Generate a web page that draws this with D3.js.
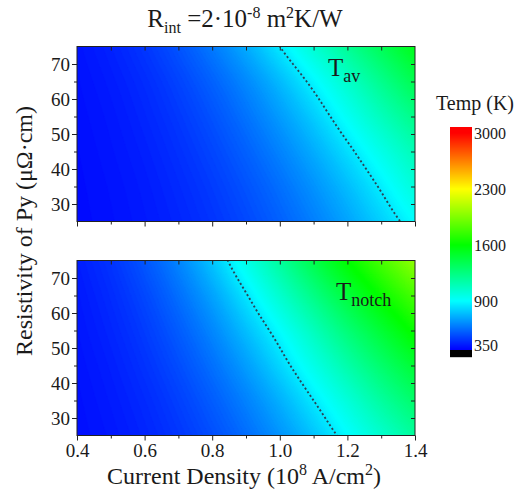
<!DOCTYPE html>
<html>
<head>
<meta charset="utf-8">
<script src="https://cdn.jsdelivr.net/npm/d3@7"></script>
<style>
  body { margin: 0; background: #fff; }
</style>
</head>
<body>
<svg id="chart" width="522" height="492"></svg>
<script>
// current density (10^8 A/cm^2) columns, resistivity (uOhm cm) rows
var currentDensity = [0.4, 0.5, 0.6, 0.7, 0.8, 0.9, 1.0, 1.1, 1.2, 1.3, 1.4];
var resistivity = [25, 35, 45, 55, 65, 75];

// average temperature (K), one row per resistivity
var tAv = [
  [314, 328, 348, 376, 413, 461, 521, 594, 682, 786, 900],
  [316, 332, 355, 388, 431, 487, 556, 641, 743, 863, 1000],
  [319, 338, 365, 404, 455, 521, 603, 703, 823, 960, 1100],
  [323, 345, 378, 424, 485, 564, 662, 781, 925, 1080, 1230],
  [328, 355, 394, 450, 524, 618, 737, 881, 1040, 1210, 1380],
  [335, 369, 419, 489, 582, 701, 850, 1020, 1190, 1360, 1530]
];

// notch temperature (K)
var tNotch = [
  [322, 343, 374, 418, 476, 550, 643, 757, 893, 1030, 1170],
  [326, 352, 389, 442, 512, 601, 713, 850, 1000, 1160, 1310],
  [332, 363, 409, 473, 558, 667, 803, 960, 1130, 1300, 1460],
  [339, 377, 432, 510, 613, 746, 900, 1080, 1270, 1450, 1630],
  [347, 393, 460, 555, 680, 841, 1030, 1230, 1430, 1620, 1800],
  [358, 413, 496, 610, 763, 960, 1170, 1390, 1600, 1800, 2000]
];

var curieLevel = 850;
var xTicks = [0.4, 0.6, 0.8, 1.0, 1.2, 1.4];
var xMinor = [0.5, 0.7, 0.9, 1.1, 1.3];
var yTicks = [30, 40, 50, 60, 70];
var yMinor = [35, 45, 55, 65];
var colorTicks = [350, 900, 1600, 2300, 3000];

var svg = d3.select("#chart");
var serif = '"Liberation Serif", "Times New Roman", "DejaVu Serif", serif';
var ink = "#1a1a1a";

var x = d3.scaleLinear().domain([0.4, 1.4]).range([77, 415]);

var color = d3.scaleLinear()
    .domain([289, 290, 900, 1600, 2300, 3000])
    .range(["#000000", "#0000ff", "#00ffff", "#00ff00", "#ffff00", "#ff0000"])
    .clamp(true);

// catmull-rom resampling of the grid so the bands look smooth
function cr(arr, f) {
  var n = arr.length;
  var i = Math.min(Math.floor(f), n - 2), t = f - i;
  var p1 = arr[i], p2 = arr[i + 1];
  var p0 = i > 0 ? arr[i - 1] : 2 * p1 - p2;
  var p3 = i + 2 < n ? arr[i + 2] : 2 * p2 - p1;
  return 0.5 * (2 * p1 + (-p0 + p2) * t + (2 * p0 - 5 * p1 + 4 * p2 - p3) * t * t +
                (-p0 + 3 * p1 - 3 * p2 + p3) * t * t * t);
}

var nx = 101, ny = 51;
function fine(grid) {
  var rows = grid.map(function(row) {
    return d3.range(nx).map(function(i) { return cr(row, i / 10); });
  });
  var out = new Array(nx * ny);
  for (var i = 0; i < nx; i++) {
    var col = rows.map(function(r) { return r[i]; });
    for (var j = 0; j < ny; j++) out[j * nx + i] = cr(col, j / 10);
  }
  return out;
}

var panels = [
  {id: "av", data: tAv, top: 46.5, bottom: 221.5, sub: "av", lx: 328, ly: 76, labels: false},
  {id: "notch", data: tNotch, top: 260.5, bottom: 435.5, sub: "notch", lx: 336, ly: 300, labels: true}
];

panels.forEach(function(p) {
  var y = d3.scaleLinear().domain([25, 75]).range([p.bottom, p.top]);
  var values = fine(p.data);

  svg.append("clipPath").attr("id", "clip-" + p.id)
    .append("rect")
    .attr("x", x(0.4)).attr("y", p.top)
    .attr("width", x(1.4) - x(0.4)).attr("height", p.bottom - p.top);

  var proj = d3.geoTransform({point: function(px, py) {
    this.stream.point(x(0.4 + (px - 0.5) * 0.01), y(25 + (py - 0.5)));
  }});
  var path = d3.geoPath(proj);

  var g = svg.append("g").attr("clip-path", "url(#clip-" + p.id + ")");
  var bands = d3.contours().size([nx, ny]).thresholds(d3.range(280, 2100, 10))(values);
  g.selectAll("path.band")
    .data(bands)
    .enter().append("path")
    .attr("class", "band")
    .attr("d", path)
    .attr("fill", function(d) { return color(d.value + 5); })
    .attr("stroke", function(d) { return color(d.value + 5); })
    .attr("stroke-width", 0.4);

  var curie = d3.contours().size([nx, ny]).contour(values, curieLevel);
  g.append("path")
    .attr("d", path(curie))
    .attr("fill", "none")
    .attr("stroke", "#2a4455")
    .attr("stroke-width", 1.9)
    .attr("stroke-dasharray", "2,2.4");

  // axes
  svg.append("g").attr("transform", "translate(" + x(0.4) + ",0)")
    .call(d3.axisLeft(y).tickValues(yTicks).tickSize(5).tickSizeOuter(0).tickPadding(2));
  svg.append("g").attr("transform", "translate(" + x(0.4) + ",0)")
    .call(d3.axisLeft(y).tickValues(yMinor).tickSize(3).tickFormat(""));
  svg.append("g").attr("transform", "translate(" + x(1.4) + ",0)")
    .call(d3.axisRight(y).tickValues(yTicks.concat(yMinor)).tickSize(-4).tickFormat(""));
  svg.append("g").attr("transform", "translate(0," + p.top + ")")
    .call(d3.axisTop(x).tickValues(xTicks.slice(1, -1).concat(xMinor)).tickSize(-4).tickFormat(""));
  svg.append("g").attr("transform", "translate(0," + p.bottom + ")")
    .call(d3.axisBottom(x).tickValues(xTicks).tickSize(5).tickPadding(3)
      .tickFormat(p.labels ? d3.format(".1f") : ""));
  svg.append("g").attr("transform", "translate(0," + p.bottom + ")")
    .call(d3.axisBottom(x).tickValues(xMinor).tickSize(3).tickFormat(""));

  svg.append("rect")
    .attr("x", x(0.4)).attr("y", p.top)
    .attr("width", x(1.4) - x(0.4)).attr("height", p.bottom - p.top)
    .attr("fill", "none").attr("stroke", "#222").attr("stroke-width", 1);

  var lab = svg.append("text").attr("x", p.lx).attr("y", p.ly).style("font-size", "25px");
  lab.append("tspan").text("T");
  lab.append("tspan").attr("dy", 6).style("font-size", "18px").text(p.sub);
});

svg.selectAll(".domain").remove();
svg.selectAll(".tick line").attr("stroke", "#222");
svg.selectAll(".tick text").style("font-size", "19px");

// title
var title = svg.append("text").attr("x", 245).attr("y", 27)
  .attr("text-anchor", "middle").style("font-size", "25px");
title.append("tspan").text("R");
title.append("tspan").attr("dy", 6).style("font-size", "16px").text("int");
title.append("tspan").attr("dy", -6).text(" =2\u00b710");
title.append("tspan").attr("dy", -9).style("font-size", "16px").text("-8");
title.append("tspan").attr("dy", 9).text(" m");
title.append("tspan").attr("dy", -9).style("font-size", "16px").text("2");
title.append("tspan").attr("dy", 9).text("K/W");

// axis titles
var xt = svg.append("text").attr("x", 244).attr("y", 484)
  .attr("text-anchor", "middle").style("font-size", "24px");
xt.append("tspan").text("Current Density (10");
xt.append("tspan").attr("dy", -9).style("font-size", "16px").text("8");
xt.append("tspan").attr("dy", 9).text(" A/cm");
xt.append("tspan").attr("dy", -9).style("font-size", "16px").text("2");
xt.append("tspan").attr("dy", 9).text(")");

svg.append("text")
  .attr("transform", "translate(32,231) rotate(-90)")
  .attr("text-anchor", "middle").style("font-size", "24px")
  .text("Resistivity of Py (\u03bc\u03a9\u00b7cm)");

// colour bar
var cb = d3.scaleLinear().domain([350, 3000]).range([345, 133]);
var cbTop = 127, cbBottom = 357;
svg.append("g").selectAll("rect")
  .data(d3.range(cbTop, cbBottom))
  .enter().append("rect")
  .attr("x", 450).attr("y", function(d) { return d; })
  .attr("width", 22).attr("height", 1.2)
  .attr("fill", function(d) { return color(cb.invert(d + 0.5)); });

svg.append("g").selectAll("text")
  .data(colorTicks)
  .enter().append("text")
  .attr("x", 474).attr("y", function(d) { return cb(d); })
  .attr("dy", "0.35em").style("font-size", "16px")
  .text(function(d) { return d; });

svg.append("text").attr("x", 475).attr("y", 110)
  .attr("text-anchor", "middle").style("font-size", "20px")
  .text("Temp (K)");

svg.selectAll("text").style("font-family", serif).style("fill", ink);
</script>
</body>
</html>
